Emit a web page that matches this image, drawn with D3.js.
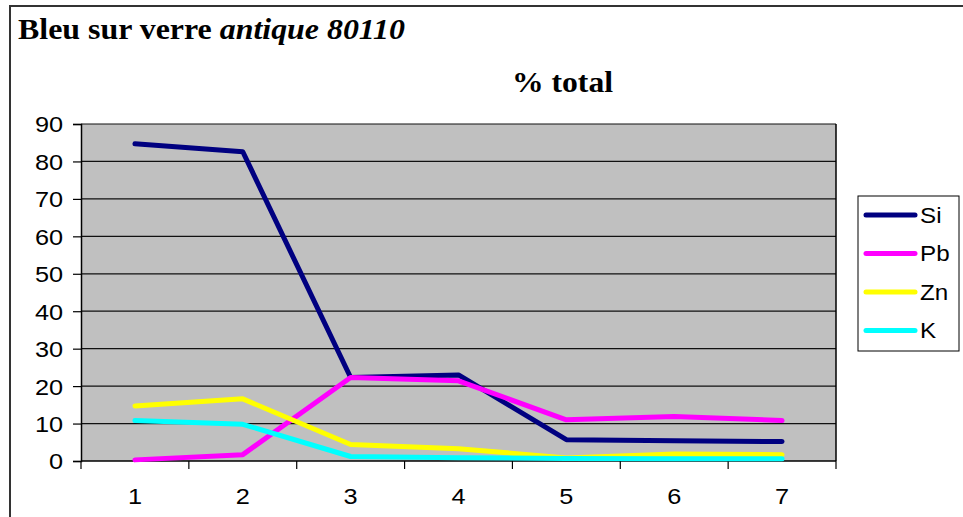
<!DOCTYPE html>
<html>
<head>
<meta charset="utf-8">
<script src="https://cdn.jsdelivr.net/npm/d3@7"></script>
<style>
  html, body { margin: 0; padding: 0; background: #fff; overflow: hidden; }
  svg { display: block; }
</style>
</head>
<body>
<svg id="chart" width="963" height="517"></svg>
<script>
// Sample numbers along the x axis
const categories = ["1", "2", "3", "4", "5", "6", "7"];

// Element percentages per sample
const siValues = [84.7, 82.6, 22.3, 23.0, 5.7, 5.4, 5.2];
const pbValues = [0.3, 1.7, 22.3, 21.4, 11.0, 11.9, 10.8];
const znValues = [14.7, 16.6, 4.4, 3.3, 0.8, 1.9, 1.7];
const kValues  = [10.8, 9.8, 1.2, 0.9, 0.7, 0.6, 0.6];

const seriesNames  = ["Si", "Pb", "Zn", "K"];
const seriesColors = ["#000080", "#ff00ff", "#ffff00", "#00ffff"];
const yTicks = [0, 10, 20, 30, 40, 50, 60, 70, 80, 90];

const series = [siValues, pbValues, znValues, kValues].map((vals, i) => ({
  name: seriesNames[i], color: seriesColors[i], values: vals
}));

const SANS = "Arial, 'Liberation Sans', sans-serif";
const SERIF = "'Times New Roman', 'Liberation Serif', serif";
const WIDE = 1.15; // horizontal stretch of the sans labels

// Stretch a text horizontally about its own anchor x
function widen(sel, k) {
  sel.each(function () {
    const ax = +this.getAttribute("x") || 0;
    this.setAttribute("transform", `translate(${ax},0) scale(${k},1) translate(${-ax},0)`);
  });
}

const svg = d3.select("#chart");

// Outer chart frame (runs past the right and bottom edges)
svg.append("rect")
  .attr("x", 10).attr("y", 6)
  .attr("width", 1000).attr("height", 600)
  .attr("fill", "#fff").attr("stroke", "#333").attr("stroke-width", 2);

const plot = { left: 81, top: 124, right: 836, bottom: 461 };

const x = d3.scaleBand().domain(categories).range([plot.left, plot.right]).padding(0);
const y = d3.scaleLinear().domain([0, 90]).range([plot.bottom, plot.top]);

// Plot area
svg.append("rect")
  .attr("x", plot.left).attr("y", plot.top)
  .attr("width", plot.right - plot.left).attr("height", plot.bottom - plot.top)
  .attr("fill", "#c0c0c0");

// Horizontal gridlines
svg.append("g").selectAll("line").data(yTicks.filter(t => t > 0)).join("line")
  .attr("x1", plot.left).attr("x2", plot.right)
  .attr("y1", d => y(d)).attr("y2", d => y(d))
  .attr("stroke", "#111").attr("stroke-width", 1.2);

// Right border of plot area
svg.append("line")
  .attr("x1", plot.right).attr("x2", plot.right)
  .attr("y1", plot.top).attr("y2", plot.bottom)
  .attr("stroke", "#000").attr("stroke-width", 1.5);

// Y axis
const yAxis = d3.axisLeft(y).tickValues(yTicks).tickSize(8).tickPadding(10);
const gy = svg.append("g").attr("transform", `translate(${plot.left},0)`).call(yAxis);
gy.select(".domain").attr("stroke", "#000").attr("stroke-width", 1.5);
gy.selectAll(".tick line").attr("stroke", "#000").attr("stroke-width", 1.2);
gy.selectAll(".tick text")
  .attr("font-family", SANS)
  .attr("font-size", 22).attr("fill", "#000").attr("dy", "0.36em")
  .call(widen, WIDE);

// X axis: labels at band centres, ticks at band edges
const xAxis = d3.axisBottom(x).tickSize(0).tickPadding(27);
const gx = svg.append("g").attr("transform", `translate(0,${plot.bottom})`).call(xAxis);
gx.select(".domain").remove();
gx.selectAll(".tick text")
  .attr("font-family", SANS)
  .attr("font-size", 22).attr("fill", "#000")
  .call(widen, WIDE);

svg.append("line")
  .attr("x1", plot.left).attr("x2", plot.right)
  .attr("y1", plot.bottom).attr("y2", plot.bottom)
  .attr("stroke", "#000").attr("stroke-width", 1.5);

const edges = categories.map(c => x(c)).concat([x(categories[categories.length - 1]) + x.bandwidth()]);
svg.append("g").selectAll("line").data(edges).join("line")
  .attr("x1", d => d).attr("x2", d => d)
  .attr("y1", plot.bottom).attr("y2", plot.bottom + 8)
  .attr("stroke", "#000").attr("stroke-width", 1.2);

// Series lines
const line = d3.line()
  .x((d, i) => x(categories[i]) + x.bandwidth() / 2)
  .y(d => y(d));

svg.append("g").selectAll("path").data(series).join("path")
  .attr("d", d => line(d.values))
  .attr("fill", "none")
  .attr("stroke", d => d.color)
  .attr("stroke-width", 5)
  .attr("stroke-linejoin", "round")
  .attr("stroke-linecap", "round");

// Titles
const title = svg.append("text")
  .attr("x", 18).attr("y", 39)
  .attr("font-family", SERIF)
  .attr("font-size", 29).attr("font-weight", "bold").attr("fill", "#000")
  .attr("textLength", 387).attr("lengthAdjust", "spacingAndGlyphs");
title.append("tspan").text("Bleu sur verre ");
title.append("tspan").attr("font-style", "italic").text("antique 80110");

svg.append("text")
  .attr("x", 512).attr("y", 92)
  .attr("font-family", SERIF)
  .attr("font-size", 29).attr("font-weight", "bold").attr("fill", "#000")
  .attr("textLength", 101).attr("lengthAdjust", "spacingAndGlyphs")
  .text("% total");

// Legend
const legend = svg.append("g");
legend.append("rect")
  .attr("x", 858).attr("y", 196).attr("width", 101).attr("height", 155)
  .attr("fill", "#fff").attr("stroke", "#000").attr("stroke-width", 1);

const rows = legend.selectAll("g.row").data(series).join("g")
  .attr("class", "row")
  .attr("transform", (d, i) => `translate(0,${215 + i * 38.5})`);
rows.append("line")
  .attr("x1", 866).attr("x2", 915)
  .attr("stroke", d => d.color).attr("stroke-width", 5)
  .attr("stroke-linecap", "round");
rows.append("text")
  .attr("x", 920).attr("y", 0).attr("dy", "0.36em")
  .attr("font-family", SANS)
  .attr("font-size", 22).attr("fill", "#000")
  .text(d => d.name)
  .call(widen, 1.1);
</script>
</body>
</html>
